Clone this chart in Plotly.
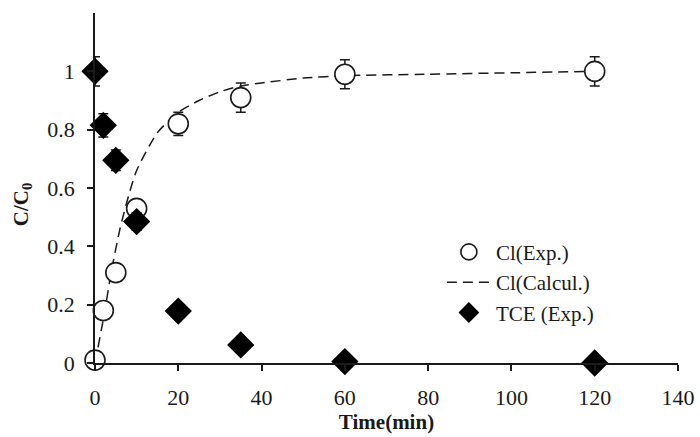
import plotly.graph_objects as go

# Experimental chloride release, C/C0 vs time (min)
cl_time = [0, 2, 5, 10, 20, 35, 60, 120]
cl_exp = [0.01, 0.18, 0.31, 0.53, 0.82, 0.91, 0.99, 1.0]
cl_err = [0.0, 0.0, 0.0, 0.0, 0.04, 0.05, 0.05, 0.05]

# Calculated chloride curve
calc_time = [0, 2, 4, 6, 8, 10, 15, 20, 25, 30, 35, 40, 50, 60, 80, 100, 120]
calc_val = [0.0, 0.15, 0.32, 0.46, 0.57, 0.66, 0.79, 0.86, 0.90, 0.93, 0.95, 0.96,
            0.977, 0.985, 0.99, 0.995, 1.0]

# Experimental TCE decay
tce_time = [0, 2, 5, 10, 20, 35, 60, 120]
tce_exp = [1.0, 0.815, 0.695, 0.485, 0.178, 0.062, 0.005, 0.0]
tce_err = [0.05, 0.04, 0.035, 0.03, 0.0, 0.0, 0.0, 0.0]

x_ticks = [0, 20, 40, 60, 80, 100, 120, 140]
y_ticks = [0, 0.2, 0.4, 0.6, 0.8, 1.0]
y_tick_text = ["0", "0.2", "0.4", "0.6", "0.8", "1"]

ink = "#1a1a1a"
font_family = "Liberation Serif, Times New Roman, serif"

fig = go.Figure()

fig.add_trace(go.Scatter(
    x=calc_time, y=calc_val, mode="lines", name="Cl(Calcul.)",
    line=dict(color=ink, width=1.5, dash="10px,6px", shape="spline", smoothing=0.6),
    legendrank=2, cliponaxis=False,
))

fig.add_trace(go.Scatter(
    x=cl_time, y=cl_exp, mode="markers", name="Cl(Exp.)",
    marker=dict(symbol="circle", size=20, color="white", line=dict(color=ink, width=1.6)),
    error_y=dict(type="data", array=cl_err, color=ink, thickness=1.5, width=5),
    legendrank=1, cliponaxis=False,
))

fig.add_trace(go.Scatter(
    x=tce_time, y=tce_exp, mode="markers", name="TCE (Exp.)",
    marker=dict(symbol="diamond", size=21, color="black", line=dict(width=0)),
    error_y=dict(type="data", array=tce_err, color=ink, thickness=1.5, width=5),
    legendrank=3, cliponaxis=False,
))

axis_common = dict(
    showline=True, linecolor=ink, linewidth=1.5, showgrid=False, zeroline=False,
    ticks="outside", ticklen=6, tickwidth=1.5, tickcolor=ink, automargin=False,
    tickfont=dict(family=font_family, size=22, color=ink),
)

fig.update_xaxes(
    range=[0, 140], tickvals=x_ticks, ticklabelstandoff=8,
    title=dict(text="<b>Time(min)</b>", font=dict(family=font_family, size=21, color=ink),
               standoff=2),
    **axis_common,
)
fig.update_yaxes(
    range=[0, 1.2], tickvals=y_ticks, ticktext=y_tick_text, ticklabelstandoff=8,
    **axis_common,
)

fig.add_annotation(
    text="<b>C/C<sub>0</sub></b>", textangle=-90, showarrow=False,
    xref="paper", yref="paper", x=-0.152, y=0.455,
    font=dict(family=font_family, size=21, color=ink),
)

fig.update_layout(
    width=700, height=437,
    margin=dict(l=95, r=22, t=13, b=74),
    paper_bgcolor="white", plot_bgcolor="white",
    showlegend=True,
    legend=dict(
        x=0.595, y=0.375, xanchor="left", yanchor="top",
        font=dict(family=font_family, size=21, color=ink),
        bgcolor="rgba(0,0,0,0)", itemsizing="trace", itemwidth=44,
    ),
)

fig.write_html("out.html")
